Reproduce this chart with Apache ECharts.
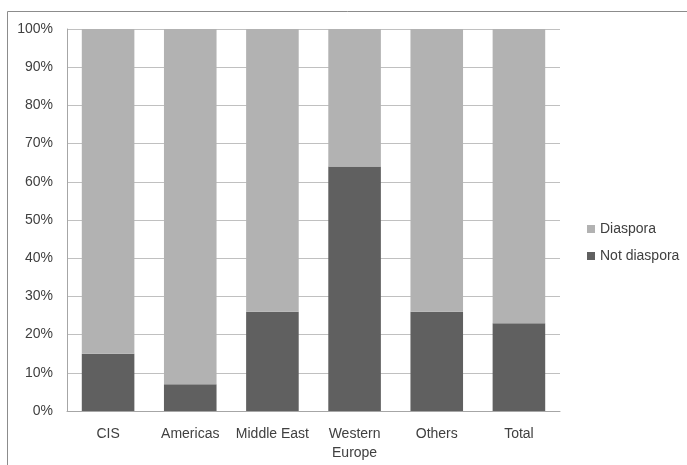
<!DOCTYPE html>
<html>
<head>
<meta charset="utf-8">
<script src="https://cdn.jsdelivr.net/npm/echarts@6/dist/echarts.min.js"></script>
<style>html,body{margin:0;padding:0;background:#fff}#c{width:687px;height:465px}</style>
</head>
<body>
<div id="c"></div>
<script>
const categories = ['CIS', 'Americas', 'Middle East', 'Western\nEurope', 'Others', 'Total'];
const notDiaspora = [15, 7, 26, 64, 26, 23];
const diaspora = [85, 93, 74, 36, 74, 77];
const yTicks = [0, 10, 20, 30, 40, 50, 60, 70, 80, 90, 100];

const chart = echarts.init(document.getElementById('c'), null, {renderer: 'canvas'});
const font = 'Liberation Sans';
chart.setOption({
  animation: false,
  textStyle: {fontFamily: font},
  graphic: [{
    type: 'rect', z: -1,
    shape: {x: 7.5, y: 11.5, width: 700, height: 500},
    style: {fill: 'none', stroke: '#8c8c8c', lineWidth: 1}
  }],
  grid: {left: 67, right: 127, top: 29, bottom: 54},
  legend: {
    orient: 'vertical', left: 582, top: 217,
    data: ['Diaspora', 'Not diaspora'],
    icon: 'rect', itemWidth: 8, itemHeight: 8, itemGap: 13,
    textStyle: {fontSize: 14, color: '#404040', fontFamily: font}
  },
  xAxis: {
    type: 'category', data: categories,
    axisLine: {lineStyle: {color: '#a6a6a6'}},
    axisTick: {show: false},
    axisLabel: {fontSize: 14, color: '#404040', margin: 14, lineHeight: 19, interval: 0, fontFamily: font}
  },
  yAxis: {
    type: 'value', min: yTicks[0], max: yTicks[yTicks.length - 1], interval: 10,
    axisLine: {show: true, lineStyle: {color: '#a6a6a6'}},
    axisTick: {show: false},
    splitLine: {lineStyle: {color: '#c0c0c0'}},
    axisLabel: {fontSize: 14, color: '#404040', margin: 14, formatter: '{value}%', fontFamily: font}
  },
  series: [
    {name: 'Not diaspora', type: 'bar', stack: 's', data: notDiaspora, barWidth: '64%',
     itemStyle: {color: '#606060'}},
    {name: 'Diaspora', type: 'bar', stack: 's', data: diaspora, barWidth: '64%',
     itemStyle: {color: '#b2b2b2'}}
  ]
});
</script>
</body>
</html>
